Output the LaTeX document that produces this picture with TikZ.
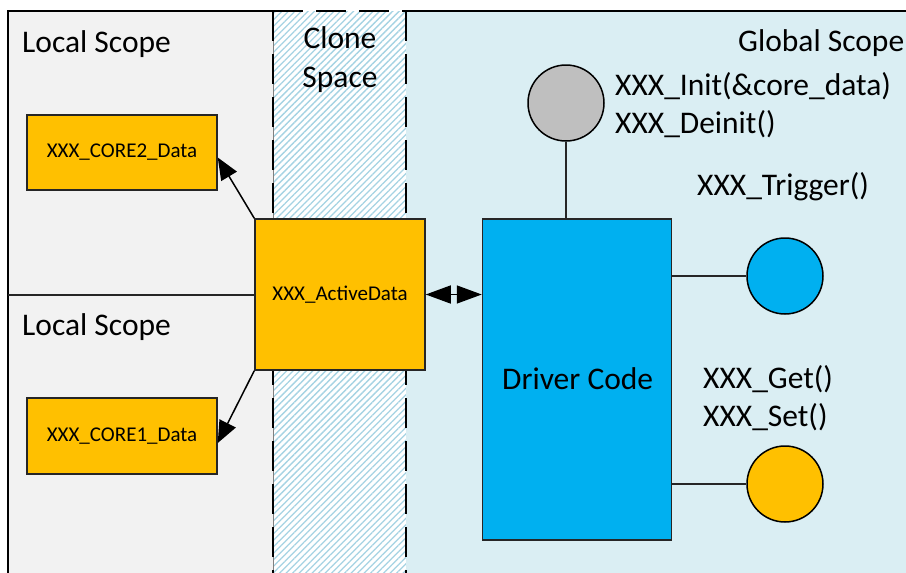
\documentclass[tikz,border=0pt]{standalone}
\usepackage{fontspec}
\setmainfont{Carlito}
\usetikzlibrary{arrows.meta,patterns.meta}
\definecolor{localgray}{HTML}{F2F2F2}
\definecolor{globalblue}{HTML}{DAEEF3}
\definecolor{hatchblue}{HTML}{A5D3E3}
\definecolor{boxorange}{HTML}{FFC000}
\definecolor{boxcyan}{HTML}{00B0F0}
\definecolor{circgray}{HTML}{BFBFBF}
\definecolor{edge}{HTML}{262626}
\tikzset{
  databox/.style={draw=edge, line width=1.5pt, fill=boxorange, inner sep=0pt, font=\fontsize{21}{25}\selectfont},
  drvbox/.style={draw=edge, line width=1.5pt, fill=boxcyan, inner sep=0pt},
  ifcirc/.style={circle, draw=black, line width=1.5pt, minimum size=76pt, inner sep=0pt},
  biglabel/.style={inner sep=0pt, font=\fontsize{31.5}{38}\selectfont},
  arr/.style={line width=1.5pt, -{Triangle[length=22pt,width=18pt]}},
  darr/.style={line width=1.5pt, {Triangle[length=25pt,width=18pt]}-{Triangle[length=25pt,width=18pt]}},
  conn/.style={line width=1.5pt, draw=edge},
  border/.style={line width=2pt, draw=black},
  dborder/.style={line width=2pt, draw=black, dash pattern=on 30pt off 13pt}
}
\begin{document}
\begin{tikzpicture}[x=1pt,y=-1pt]
\useasboundingbox (0,0) rectangle (906,573);
% regions
\fill[localgray] (8,11) rectangle (273,573);
\fill[white] (273,11) rectangle (406,573);
\fill[pattern={Lines[angle=45,distance=4.6pt,line width=1.3pt]}, pattern color=hatchblue] (273,11) rectangle (406,573);
\fill[globalblue] (406,11) rectangle (906,573);
\draw[line width=1pt, draw=gray] (273,11) -- (273,573);
\draw[border] (8,573) -- (8,11) -- (273,11);
\draw[border] (406,11) -- (906,11);
\draw[dborder] (273,11) -- (406,11);
\draw[dborder] (273,11) -- (273,573);
\draw[dborder] (406,11) -- (406,573);
% labels
\node[biglabel, anchor=base west] (ls1) at (22,52) {Local Scope};
\node[biglabel, anchor=base west] (ls2) at (22,335) {Local Scope};
\node[biglabel, anchor=base] (clone) at (340,48) {Clone};
\node[biglabel, anchor=base] (space) at (340,87) {Space};
\node[biglabel, anchor=base west] (gs) at (738,51) {Global Scope};
\node[biglabel, anchor=base west] (init) at (615,95) {XXX\_Init(\&core\_data)};
\node[biglabel, anchor=base west] (deinit) at (615,133) {XXX\_Deinit()};
\node[biglabel, anchor=base west] (trigl) at (697,195) {XXX\_Trigger()};
\node[biglabel, anchor=base west] (getl) at (703,388) {XXX\_Get()};
\node[biglabel, anchor=base west] (setl) at (703,426) {XXX\_Set()};
% boxes
\node[databox, minimum width=190pt, minimum height=75pt] (core2) at (122,152.5) {XXX\_CORE2\_Data};
\node[databox, minimum width=190pt, minimum height=76pt] (core1) at (122,436) {XXX\_CORE1\_Data};
\node[databox, minimum width=170pt, minimum height=151pt] (active) at (340,294.5) {XXX\_ActiveData};
\node[drvbox, minimum width=189pt, minimum height=321pt] (driver) at (577,379.5) {};
\node[biglabel, anchor=base west] (drvlabel) at (502,389) {Driver Code};
% circles
\node[ifcirc, fill=circgray] (lifec) at (566,103) {};
\node[ifcirc, fill=boxcyan] (trigc) at (785,276) {};
\node[ifcirc, fill=boxorange] (getc) at (785,484) {};
% connectors
\coordinate (divl) at (8,295);
\draw[conn] (divl) -- (divl -| active.west);
\draw[conn] (lifec.south) -- (lifec.south |- driver.north);
\draw[conn] (trigc.west -| driver.east) -- (trigc.west);
\draw[conn] (getc.west -| driver.east) -- (getc.west);
\draw[arr] (active.north west) -- ([yshift=-5pt]core2.east);
\draw[arr] (active.south west) -- ([yshift=-7pt]core1.east);
\draw[darr] (active.east) -- (active.east -| driver.west);
\end{tikzpicture}
\end{document}
